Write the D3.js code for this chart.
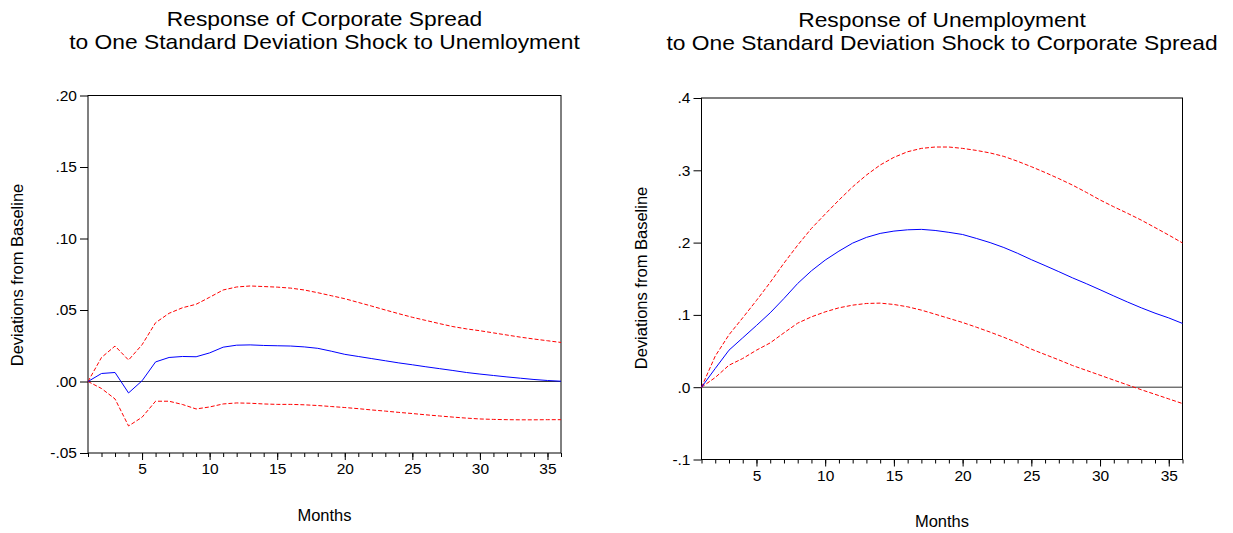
<!DOCTYPE html>
<html>
<head>
<meta charset="utf-8">
<script src="https://cdn.jsdelivr.net/npm/d3@7"></script>
<style>
  body { margin: 0; background: #fff; }
  svg text { font-family: Arial, "Liberation Sans", sans-serif; fill: #000; }
</style>
</head>
<body>
<div id="chart"></div>
<script>
// months on the horizontal axis
var months = d3.range(1, 37);

// left panel: response of corporate spread to unemployment shock
var spreadResp = [0, 0.0056, 0.0063, -0.008, 0.0005, 0.0137, 0.0168, 0.0175, 0.0173, 0.020,
  0.024, 0.0254, 0.0256, 0.0252, 0.025, 0.0248, 0.0242, 0.0232, 0.0212, 0.019,
  0.0175, 0.016, 0.0145, 0.013, 0.0117, 0.0103, 0.009, 0.0077, 0.0063, 0.0052,
  0.0042, 0.0032, 0.0023, 0.0014, 0.0007, 0.0002];
var spreadUpper = [0, 0.0168, 0.0248, 0.015, 0.0257, 0.0411, 0.0477, 0.0516, 0.054, 0.0589,
  0.064, 0.0661, 0.0668, 0.0664, 0.066, 0.0653, 0.064, 0.0621, 0.060, 0.0579,
  0.0553, 0.0527, 0.050, 0.0474, 0.0449, 0.0427, 0.0405, 0.0384, 0.0368, 0.0355,
  0.034, 0.0325, 0.031, 0.0297, 0.0285, 0.0273];
var spreadLower = [0, -0.0049, -0.0122, -0.0311, -0.025, -0.0138, -0.0138, -0.0161, -0.0192, -0.0178,
  -0.0157, -0.015, -0.0152, -0.0157, -0.016, -0.016, -0.0163, -0.0168, -0.0175, -0.0182,
  -0.019, -0.0199, -0.0207, -0.0216, -0.0224, -0.0233, -0.0241, -0.0249, -0.0256, -0.0262,
  -0.0265, -0.0267, -0.0268, -0.0268, -0.0267, -0.0267];

// right panel: response of unemployment to corporate spread shock
var unempResp = [0, 0.0259, 0.0512, 0.0683, 0.0854, 0.1029, 0.1227, 0.1435, 0.161, 0.1758,
  0.1882, 0.1993, 0.2072, 0.2127, 0.2159, 0.2177, 0.2183, 0.2168, 0.2142, 0.2112,
  0.2058, 0.2, 0.1932, 0.1852, 0.1764, 0.1682, 0.1598, 0.1512, 0.1432, 0.1348,
  0.1262, 0.1178, 0.1098, 0.1024, 0.0958, 0.0882];
var unempUpper = [0, 0.043, 0.0725, 0.096, 0.12, 0.145, 0.1716, 0.1965, 0.2196, 0.2394,
  0.2588, 0.2772, 0.2934, 0.3073, 0.3179, 0.3257, 0.3303, 0.3322, 0.3322, 0.3303,
  0.3275, 0.324, 0.3192, 0.3125, 0.305, 0.297, 0.2885, 0.2795, 0.2695, 0.259,
  0.2495, 0.2405, 0.2311, 0.2208, 0.2104, 0.1995];
var unempLower = [0, 0.0134, 0.0304, 0.0397, 0.0512, 0.0613, 0.0752, 0.0886, 0.0973, 0.1042,
  0.1098, 0.1135, 0.1158, 0.1163, 0.1144, 0.1112, 0.1066, 0.101, 0.0952, 0.0895,
  0.083, 0.0762, 0.069, 0.0614, 0.0526, 0.0452, 0.0378, 0.03, 0.0233, 0.0166,
  0.0098, 0.0032, -0.0035, -0.0098, -0.0162, -0.0226];

// tick values / labels
var xTicks = [5, 10, 15, 20, 25, 30, 35];
var leftYTicks = [-0.05, 0, 0.05, 0.10, 0.15, 0.20];
var leftYLabels = ["-.05", ".00", ".05", ".10", ".15", ".20"];
var rightYTicks = [-0.1, 0, 0.1, 0.2, 0.3, 0.4];
var rightYLabels = ["-.1", ".0", ".1", ".2", ".3", ".4"];

var svg = d3.select("#chart").append("svg")
  .attr("width", 1233)
  .attr("height", 533);

function drawPanel(p) {
  var x = d3.scaleLinear().domain([1, 36]).range([p.left, p.right]);
  var y = d3.scaleLinear().domain(p.yDomain).range([p.bottom, p.top]);
  var g = svg.append("g");
  var cx = (p.left + p.right) / 2;

  // title (two lines, slightly wide lettering)
  [p.title1, p.title2].forEach(function(t, i) {
    g.append("text")
      .attr("transform", "translate(" + cx + "," + (p.titleY + i * 23) + ") scale(1.14,1)")
      .attr("text-anchor", "middle").attr("font-size", 20).text(t);
  });

  // frame
  g.append("rect")
    .attr("x", p.left).attr("y", p.top)
    .attr("width", p.right - p.left).attr("height", p.bottom - p.top)
    .attr("fill", "none").attr("stroke", "#000").attr("stroke-width", 1);

  // y axis
  var yAxis = d3.axisLeft(y).tickValues(p.yTicks)
    .tickFormat(function(d, i) { return p.yLabels[i]; })
    .tickSize(8).tickPadding(3);
  var ya = g.append("g").attr("transform", "translate(" + p.left + ",0)").call(yAxis);
  ya.select(".domain").remove();
  ya.selectAll("text").attr("font-size", 15.5).attr("font-family", "Arial, 'Liberation Sans', sans-serif");

  // x axis: minor ticks every month, labelled majors
  var xMinor = d3.axisBottom(x).tickValues(months).tickSize(4).tickFormat("");
  var xm = g.append("g").attr("transform", "translate(0," + p.bottom + ")").call(xMinor);
  xm.select(".domain").remove();
  var xAxis = d3.axisBottom(x).tickValues(xTicks).tickSize(7).tickPadding(3);
  var xa = g.append("g").attr("transform", "translate(0," + p.bottom + ")").call(xAxis);
  xa.select(".domain").remove();
  xa.selectAll("text").attr("font-size", 15.5).attr("font-family", "Arial, 'Liberation Sans', sans-serif");

  // zero line
  g.append("line")
    .attr("x1", p.left).attr("x2", p.right)
    .attr("y1", y(0)).attr("y2", y(0))
    .attr("stroke", "#333").attr("stroke-width", 1);

  var line = d3.line()
    .x(function(d, i) { return x(months[i]); })
    .y(function(d) { return y(d); });

  g.append("path").datum(p.upper).attr("d", line)
    .attr("fill", "none").attr("stroke", "#ff0000").attr("stroke-width", 1)
    .attr("stroke-dasharray", "4,2");
  g.append("path").datum(p.lower).attr("d", line)
    .attr("fill", "none").attr("stroke", "#ff0000").attr("stroke-width", 1)
    .attr("stroke-dasharray", "4,2");
  g.append("path").datum(p.resp).attr("d", line)
    .attr("fill", "none").attr("stroke", "#0000ff").attr("stroke-width", 1);

  // axis titles
  g.append("text").attr("x", cx).attr("y", p.xLabelY)
    .attr("text-anchor", "middle").attr("font-size", 16.5).text("Months");
  g.append("text")
    .attr("transform", "translate(" + p.yLabelX + "," + p.yLabelY + ") rotate(-90)")
    .attr("text-anchor", "middle").attr("font-size", 16.5).text("Deviations from Baseline");
}

drawPanel({
  left: 88, right: 561, top: 95.5, bottom: 453,
  yDomain: [-0.05, 0.20], yTicks: leftYTicks, yLabels: leftYLabels,
  resp: spreadResp, upper: spreadUpper, lower: spreadLower,
  title1: "Response of Corporate Spread",
  title2: "to One Standard Deviation Shock to Unemloyment",
  titleY: 26, xLabelY: 521, yLabelX: 23, yLabelY: 275
});

drawPanel({
  left: 701.5, right: 1182.5, top: 98, bottom: 459.5,
  yDomain: [-0.1, 0.4], yTicks: rightYTicks, yLabels: rightYLabels,
  resp: unempResp, upper: unempUpper, lower: unempLower,
  title1: "Response of Unemployment",
  title2: "to One Standard Deviation Shock to Corporate Spread",
  titleY: 27, xLabelY: 527, yLabelX: 647, yLabelY: 278
});
</script>
</body>
</html>
